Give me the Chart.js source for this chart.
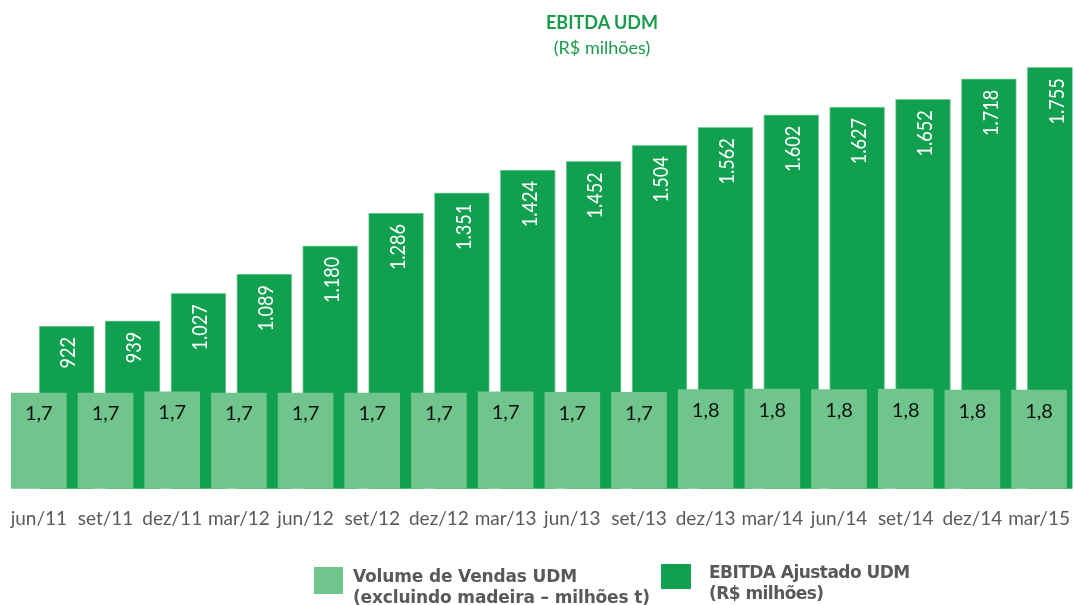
<!DOCTYPE html>
<html>
<head>
<meta charset="utf-8">
<script src="https://cdn.jsdelivr.net/npm/chart.js@4.4.1/dist/chart.umd.min.js"></script>
<style>
  html, body { margin: 0; padding: 0; background: #ffffff; }
  #wrap { position: relative; width: 1074px; height: 605px; overflow: hidden; }
  #c { position: absolute; left: 0; top: 0; }
  .title { position: absolute; left: 0; width: 1204px; text-align: center; color: #1a9b4b; font-family: Lato, "Open Sans", sans-serif; white-space: nowrap; }
  .leg-box { position: absolute; }
  .leg-text { position: absolute; font-family: "DejaVu Sans", sans-serif; font-weight: bold; color: #595959; font-size: 17px; line-height: 21px; white-space: nowrap; letter-spacing: -0.15px; }
</style>
</head>
<body>
<div id="wrap">
  <canvas id="c" width="1074" height="605"></canvas>
  <div class="title" style="top:11px; font-weight:bold; font-size:18px;">EBITDA UDM</div>
  <div class="title" style="top:36px; font-size:18px;">(R$ milhões)</div>
  <div class="leg-box" style="left:314px; top:567px; width:29px; height:27px; background:#70c58c;"></div>
  <div class="leg-text" style="left:353px; top:566px;">Volume de Vendas UDM<br>(excluindo madeira – milhões t)</div>
  <div class="leg-box" style="left:661px; top:564px; width:30px; height:25px; background:#11a04f;"></div>
  <div class="leg-text" style="left:709px; top:562px; letter-spacing:-0.55px;">EBITDA Ajustado UDM<br>(R$ milhões)</div>
</div>
<script>
// ---- data ----
const periods = ["jun/11","set/11","dez/11","mar/12","jun/12","set/12","dez/12","mar/13","jun/13","set/13","dez/13","mar/14","jun/14","set/14","dez/14","mar/15"];
const volumeVendas = [1.70, 1.70, 1.72, 1.70, 1.70, 1.70, 1.70, 1.72, 1.71, 1.71, 1.76, 1.77, 1.76, 1.77, 1.75, 1.75];
const ebitdaAjustado = [922, 939, 1027, 1089, 1180, 1286, 1351, 1424, 1452, 1504, 1562, 1602, 1627, 1652, 1718, 1755];

const LIGHT = '#70c58c';
const DARK = '#11a04f';

function fmtThousands(v) {
  return String(v).replace(/\B(?=(\d{3})+(?!\d))/g, '.');
}
function fmtDecimal(v) {
  return v.toFixed(1).replace('.', ',');
}

const labelPlugin = {
  id: 'barLabels',
  afterDatasetsDraw(chart) {
    const ctx = chart.ctx;
    const ca = chart.chartArea;
    // dark (EBITDA) labels, rotated
    const mDark = chart.getDatasetMeta(1);
    mDark.data.forEach((el, i) => {
      ctx.save();
      ctx.beginPath();
      ctx.rect(ca.left, ca.top, ca.right - ca.left, ca.bottom - ca.top);
      ctx.clip();
      ctx.translate(el.x + 2, el.y + 11);
      ctx.rotate(-Math.PI / 2);
      ctx.scale(0.86, 1);
      ctx.fillStyle = '#ffffff';
      ctx.font = '21px Lato, "Open Sans", sans-serif';
      ctx.textAlign = 'right';
      ctx.textBaseline = 'middle';
      ctx.fillText(fmtThousands(ebitdaAjustado[i]), 0, 0);
      ctx.restore();
    });
    // light (volume) labels
    const mLight = chart.getDatasetMeta(0);
    mLight.data.forEach((el, i) => {
      ctx.save();
      ctx.fillStyle = '#111111';
      ctx.font = '20px Lato, "Open Sans", sans-serif';
      ctx.textAlign = 'center';
      ctx.textBaseline = 'middle';
      ctx.fillText(fmtDecimal(volumeVendas[i]), el.x, el.y + 21);
      ctx.restore();
    });
  }
};

const TOP = 60, BOTTOM = 488.7;

new Chart(document.getElementById('c'), {
  type: 'bar',
  data: {
    labels: periods,
    datasets: [
      {
        label: 'Volume de Vendas UDM',
        data: volumeVendas,
        backgroundColor: LIGHT,
        borderWidth: 0,
        barThickness: 55,
        xAxisID: 'x',
        yAxisID: 'y',
        grouped: false
      },
      {
        label: 'EBITDA Ajustado UDM',
        data: ebitdaAjustado.map((v, i) => ({ x: i, y: v })),
        backgroundColor: DARK,
        borderColor: '#7fcf9a',
        borderWidth: 1,
        borderSkipped: 'bottom',
        barThickness: 55,
        xAxisID: 'x2',
        yAxisID: 'y2',
        grouped: false
      }
    ]
  },
  options: {
    responsive: false,
    devicePixelRatio: 1,
    animation: false,
    layout: { padding: { left: 5.5, right: 1.6, top: TOP, bottom: 0 } },
    plugins: {
      legend: { display: false },
      title: { display: false },
      tooltip: { enabled: false }
    },
    scales: {
      x: {
        type: 'category',
        offset: true,
        grid: { display: false, drawTicks: false },
        border: { display: false },
        ticks: {
          color: '#595959',
          font: { family: 'Lato, "Open Sans", sans-serif', size: 19 },
          padding: 19,
          maxRotation: 0,
          autoSkip: false
        },
        afterFit(s) {
          s.height = 605 - BOTTOM;
          s.paddingLeft = 0;
          s.paddingRight = 0;
        }
      },
      x2: {
        type: 'linear',
        display: false,
        offset: false,
        grid: { offset: false },
        min: -0.929,
        max: 15.268,
        ticks: { stepSize: 1, includeBounds: false }
      },
      y: {
        display: false,
        min: 0,
        max: (BOTTOM - TOP) / 56.29
      },
      y2: {
        display: false,
        min: (612.34 - BOTTOM) / 0.31056,
        max: (612.34 - TOP) / 0.31056
      }
    }
  },
  plugins: [labelPlugin]
});
</script>
</body>
</html>
